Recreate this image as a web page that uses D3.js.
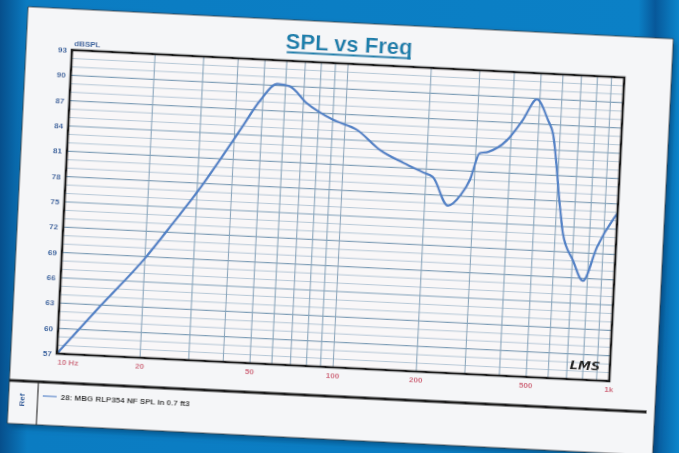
<!DOCTYPE html>
<html>
<head>
<meta charset="utf-8">
<script src="https://cdn.jsdelivr.net/npm/d3@7"></script>
<style>
  body { margin: 0; background: #0d84ca; }
  svg { display: block; }
</style>
</head>
<body>
<svg id="chart" width="679" height="453"></svg>
<script>
// response (Hz, dB SPL)
let freqs = [10, 14, 20, 25, 30, 36, 42, 49, 56, 62, 72, 90, 111, 135, 165, 195, 212, 243, 270, 289, 310, 332, 387, 438, 488, 540, 565, 618, 640, 703, 771, 855, 972, 1000];
let spl   = [57, 62.8, 68.8, 73.2, 76.9, 81, 84.6, 88.2, 90.2, 90, 88.1, 86.3, 85.2, 83, 81.6, 80.6, 80.1, 76.8, 78.2, 80.0, 83.2, 83.4, 84.9, 87.4, 89.9, 87.5, 86, 77.3, 74.2, 71.1, 68.7, 72.8, 76.3, 76.9];
let yTicks = [57, 60, 63, 66, 69, 72, 75, 78, 81, 84, 87, 90, 93];
let xTicks = [10, 20, 50, 100, 200, 500, 1000];
let xTickLabels = ["10 Hz", "20", "50", "100", "200", "500", "1k"];
let legendLabel = "28: MBG RLP354 NF SPL in 0.7 ft3";

let svg = d3.select("#chart"),
    W = 679, H = 453,
    width = 553, height = 304;

// background blue with darker edges
let defs = svg.append("defs");
let bg = defs.append("linearGradient").attr("id", "bg").attr("x1", 0).attr("x2", 1).attr("y1", 0).attr("y2", 0);
bg.append("stop").attr("offset", "0").attr("stop-color", "#064f8c");
bg.append("stop").attr("offset", "0.04").attr("stop-color", "#0b7cc2");
bg.append("stop").attr("offset", "0.94").attr("stop-color", "#0b80c6");
bg.append("stop").attr("offset", "0.965").attr("stop-color", "#07589a");
bg.append("stop").attr("offset", "1").attr("stop-color", "#0c86cc");
defs.append("filter").attr("id", "soft")
    .append("feGaussianBlur").attr("stdDeviation", 0.45);
defs.append("filter").attr("id", "shadow")
    .append("feGaussianBlur").attr("stdDeviation", 3);

svg.append("rect").attr("width", W).attr("height", H).attr("fill", "url(#bg)");

let g = svg.append("g")
    .attr("transform", "translate(72,50) rotate(2.85)")
    .attr("filter", "url(#soft)");

// paper
g.append("rect").attr("x", -43).attr("y", -37).attr("width", 645).attr("height", 416)
    .attr("fill", "#03345f").attr("opacity", 0.6).attr("filter", "url(#shadow)");
g.append("rect").attr("x", -46).attr("y", -41).attr("width", 646).attr("height", 417)
    .attr("fill", "#f5f6f8").attr("stroke", "#333").attr("stroke-width", 0.8);

let x = d3.scaleLog().domain([10, 1000]).range([0, width]);
let y = d3.scaleLinear().domain([57, 93]).range([height, 0]);

g.append("rect").attr("width", width).attr("height", height).attr("fill", "#f9f7f8");

// grid
let minorY = d3.range(57, 94, 1);
g.selectAll(".hy").data(minorY).enter().append("line")
    .attr("x1", 0).attr("x2", width)
    .attr("y1", d => y(d)).attr("y2", d => y(d))
    .attr("stroke", d => (d - 57) % 3 == 0 ? "#7e9fb8" : "#adc2d2")
    .attr("stroke-width", d => (d - 57) % 3 == 0 ? 1.2 : 0.9);

let minorX = [];
[10, 100].forEach(function(dec){
    for (let k = 1; k <= 9; k++) minorX.push(dec * k);
});
minorX.push(1000);
g.selectAll(".vx").data(minorX).enter().append("line")
    .attr("y1", 0).attr("y2", height)
    .attr("x1", d => x(d)).attr("x2", d => x(d))
    .attr("stroke", "#8aa6bc").attr("stroke-width", 1.1);

// curve
let line = d3.line()
    .x(function(d, i){ return x(freqs[i]); })
    .y(function(d){ return y(d); })
    .curve(d3.curveMonotoneX);
g.append("path").datum(spl)
    .attr("d", line)
    .attr("fill", "none")
    .attr("stroke", "#5282c6")
    .attr("stroke-width", 2.3);

// frame
g.append("rect").attr("width", width).attr("height", height)
    .attr("fill", "none").attr("stroke", "#1d1d1d").attr("stroke-width", 2.6);

// axes labels
g.selectAll(".yl").data(yTicks).enter().append("text")
    .attr("x", -5).attr("y", d => y(d) + 3)
    .attr("text-anchor", "end")
    .style("font", "bold 8px 'Liberation Sans', Arial, sans-serif")
    .attr("fill", "#2f5d9c")
    .text(d => d);

g.selectAll(".xl").data(xTicks).enter().append("text")
    .attr("x", function(d, i){ return i == 0 ? x(d) + 1 : x(d); })
    .attr("y", height + 11)
    .attr("text-anchor", function(d, i){ return i == 0 ? "start" : "middle"; })
    .style("font", "bold 8px 'Liberation Sans', Arial, sans-serif")
    .attr("fill", "#d06a7e")
    .text(function(d, i){ return xTickLabels[i]; });

g.append("text").attr("x", 2).attr("y", -4)
    .style("font", "bold 8px 'Liberation Sans', Arial, sans-serif")
    .attr("fill", "#2f5d9c")
    .text("dBSPL");

// title
g.append("text").attr("x", width / 2).attr("y", -12)
    .attr("text-anchor", "middle")
    .style("font", "bold 22px 'Liberation Sans', Arial, sans-serif")
    .attr("fill", "#1d7fab")
    .text("SPL vs Freq");
g.append("line").attr("x1", width / 2 - 62).attr("x2", width / 2 + 62)
    .attr("y1", -8.5).attr("y2", -8.5)
    .attr("stroke", "#1d7fab").attr("stroke-width", 1.8);

// handwritten mark
g.append("text").attr("x", 528).attr("y", 294)
    .attr("text-anchor", "middle")
    .style("font", "italic bold 13px 'DejaVu Sans', sans-serif")
    .attr("fill", "#222")
    .text("LMS");

// legend
g.append("line").attr("x1", -46).attr("x2", 592)
    .attr("y1", 333).attr("y2", 333)
    .attr("stroke", "#1a1a1a").attr("stroke-width", 3);
g.append("line").attr("x1", -17).attr("x2", -17)
    .attr("y1", 333).attr("y2", 376)
    .attr("stroke", "#333").attr("stroke-width", 1.2);
g.append("text")
    .attr("transform", "translate(-30,352) rotate(-90)")
    .attr("text-anchor", "middle")
    .style("font", "bold 8px 'Liberation Sans', Arial, sans-serif")
    .attr("fill", "#2f5d9c")
    .text("Ref");
g.append("line").attr("x1", -12).attr("x2", 2)
    .attr("y1", 347).attr("y2", 347)
    .attr("stroke", "#7fa3d6").attr("stroke-width", 1.6);
g.append("text").attr("x", 6).attr("y", 350)
    .style("font", "bold 8px 'Liberation Sans', Arial, sans-serif")
    .attr("fill", "#333")
    .text(legendLabel);
</script>
</body>
</html>
